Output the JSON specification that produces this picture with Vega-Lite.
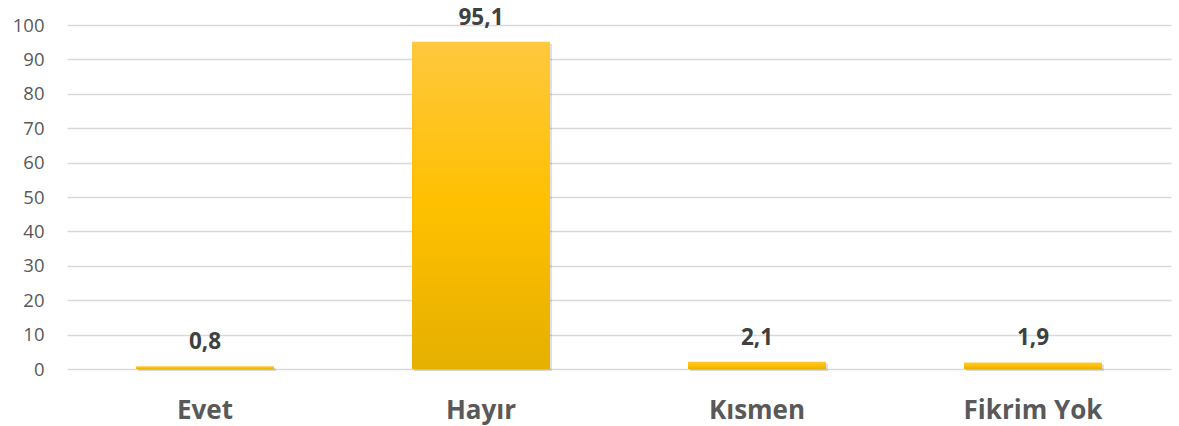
{
  "$schema": "https://vega.github.io/schema/vega-lite/v6.json",
  "autosize": {"type": "none"},
  "padding": {"left": 67, "top": 25, "right": 8, "bottom": 57},
  "width": 1104,
  "height": 344,
  "background": "white",
  "config": {"view": {"stroke": null}, "font": "Open Sans"},
  "data": {"values": [
    {"cat": "Evet", "val": 0.8, "lab": "0,8"},
    {"cat": "Hayır", "val": 95.1, "lab": "95,1"},
    {"cat": "Kısmen", "val": 2.1, "lab": "2,1"},
    {"cat": "Fikrim Yok", "val": 1.9, "lab": "1,9"}
  ]},
  "encoding": {
    "x": {"field": "cat", "type": "nominal", "sort": null,
      "scale": {"paddingInner": 0.5, "paddingOuter": 0.25},
      "axis": {"title": null, "labelAngle": 0, "domain": false, "ticks": false,
        "labelFontSize": 26, "labelFontWeight": "bold", "labelColor": "#595959",
        "labelPadding": 28, "labelFont": "Open Sans"}},
    "y": {"field": "val", "type": "quantitative",
      "scale": {"domain": [0, 100]},
      "axis": {"title": null, "values": [0,10,20,30,40,50,60,70,80,90,100], "domain": false, "ticks": false,
        "labelFontSize": 18.5, "labelColor": "#595959", "labelPadding": 23, "labelFont": "Open Sans",
        "gridColor": "#d9d9d9", "gridWidth": 1.5}}
  },
  "layer": [
    {"mark": {"type": "bar", "color": "#000000", "opacity": 0.12, "xOffset": 2, "yOffset": 2}},
    {"mark": {"type": "bar", "color": {"gradient": "linear", "x1": 0, "y1": 0, "x2": 0, "y2": 1,
      "stops": [{"offset": 0, "color": "#FFC83E"}, {"offset": 0.5, "color": "#FFC000"}, {"offset": 1, "color": "#E5B000"}]}}},
    {"mark": {"type": "text", "dy": -24, "baseline": "middle", "fontSize": 22.5, "fontWeight": "bold", "color": "#404040", "font": "Open Sans"},
      "encoding": {"text": {"field": "lab"}}}
  ]
}
